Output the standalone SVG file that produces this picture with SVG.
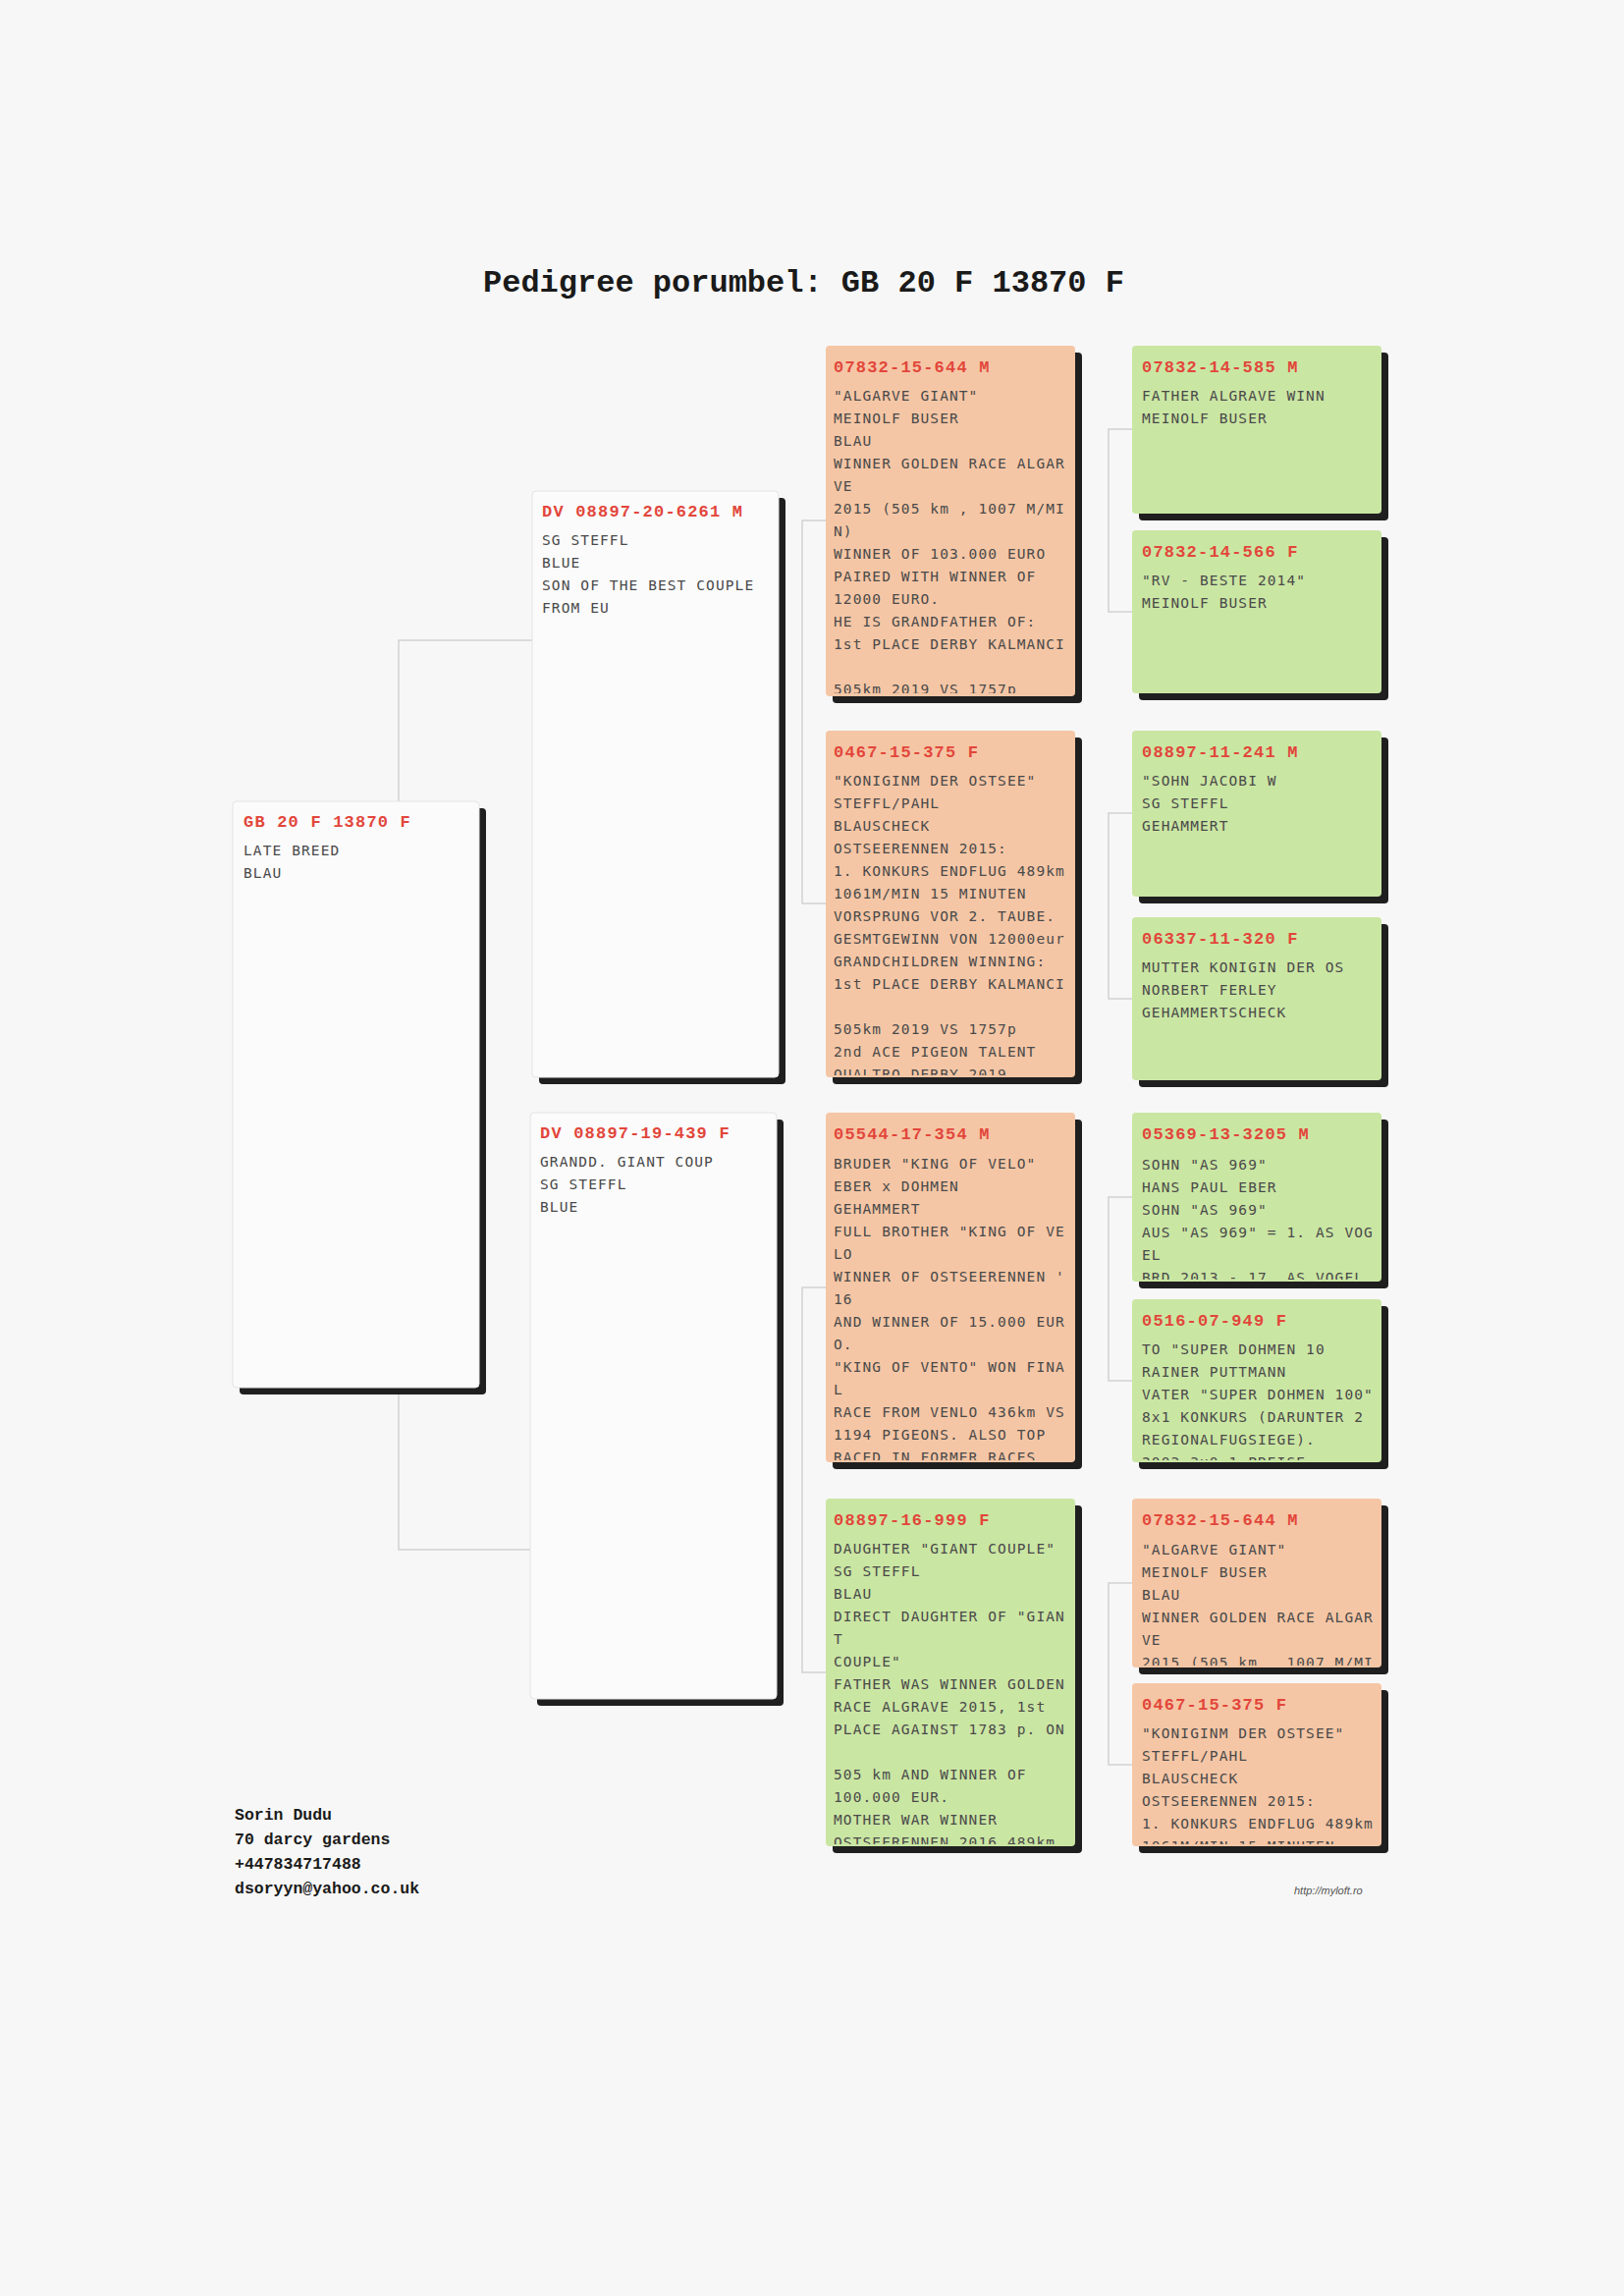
<svg xmlns="http://www.w3.org/2000/svg" width="1654" height="2338" viewBox="0 0 1654 2338">
<style>
.bg{fill:#f7f7f7}
.sh{fill:#1f1f1f}
.w{fill:#fbfbfb;stroke:#e4e4e4;stroke-width:1}
.s{fill:#f5c6a5}
.g{fill:#cae6a3}
.hd{font-family:"Liberation Mono",monospace;font-weight:bold;font-size:17px;letter-spacing:1.2px;fill:#e2463b}
.bd{font-family:"DejaVu Sans Mono",monospace;font-size:14.5px;letter-spacing:1.1px;fill:#4a4a4a}
.title{font-family:"Liberation Mono",monospace;font-weight:bold;font-size:32px;fill:#1a1a1a}
.ft{font-family:"Liberation Mono",monospace;font-weight:bold;font-size:16.5px;fill:#1a1a1a}
.lk{font-family:"Liberation Sans",sans-serif;font-style:italic;font-size:11px;fill:#555}
.cn{fill:none;stroke:#d2d2d2;stroke-width:1.5}
</style>
<defs>
<clipPath id="cRoot"><rect x="237" y="816" width="251" height="594"/></clipPath>
<clipPath id="cG1a"><rect x="542" y="500" width="251" height="594"/></clipPath>
<clipPath id="cG1b"><rect x="540" y="1133" width="251" height="594"/></clipPath>
<clipPath id="cG2a"><rect x="841" y="352" width="254" height="354"/></clipPath>
<clipPath id="cG2b"><rect x="841" y="744" width="254" height="351"/></clipPath>
<clipPath id="cG2c"><rect x="841" y="1133" width="254" height="354"/></clipPath>
<clipPath id="cG2d"><rect x="841" y="1526" width="254" height="352"/></clipPath>
<clipPath id="cG3a1"><rect x="1153" y="352" width="254" height="169"/></clipPath>
<clipPath id="cG3a2"><rect x="1153" y="540" width="254" height="164"/></clipPath>
<clipPath id="cG3b1"><rect x="1153" y="744" width="254" height="167"/></clipPath>
<clipPath id="cG3b2"><rect x="1153" y="934" width="254" height="164"/></clipPath>
<clipPath id="cG3c1"><rect x="1153" y="1133" width="254" height="170"/></clipPath>
<clipPath id="cG3c2"><rect x="1153" y="1323" width="254" height="164"/></clipPath>
<clipPath id="cG3d1"><rect x="1153" y="1526" width="254" height="170"/></clipPath>
<clipPath id="cG3d2"><rect x="1153" y="1714" width="254" height="164"/></clipPath>
</defs>
<rect class="bg" x="0" y="0" width="1654" height="2338"/>

<text class="title" x="492" y="297">Pedigree porumbel: GB 20 F 13870 F</text>

<g id="connectors" class="cn">
<path d="M406,816 V652 H542"/>
<path d="M406,1413 V1578 H540"/>
<path d="M841,530 H817 V920 H841"/>
<path d="M841,1311 H817 V1703 H841"/>
<path d="M1153,437 H1129 V623 H1153"/>
<path d="M1153,828 H1129 V1017 H1153"/>
<path d="M1153,1219 H1129 V1406 H1153"/>
<path d="M1153,1612 H1129 V1797 H1153"/>
</g>

<g id="root">
<rect class="sh" x="244" y="823" width="251" height="597" rx="4"/>
<rect class="w" x="237" y="816" width="251" height="597" rx="4"/>
<text class="hd" x="248" y="842">GB 20 F 13870 F</text>
<g clip-path="url(#cRoot)" class="bd">
<text x="248" y="871">LATE BREED</text>
<text x="248" y="894">BLAU</text>
</g>
</g>

<g id="sire">
<rect class="sh" x="549" y="507" width="251" height="597" rx="4"/>
<rect class="w" x="542" y="500" width="251" height="597" rx="4"/>
<text class="hd" x="552" y="526">DV 08897-20-6261 M</text>
<g clip-path="url(#cG1a)" class="bd">
<text x="552" y="555">SG STEFFL</text>
<text x="552" y="578">BLUE</text>
<text x="552" y="601">SON OF THE BEST COUPLE</text>
<text x="552" y="624">FROM EU</text>
</g>
</g>

<g id="dam">
<rect class="sh" x="547" y="1140" width="251" height="597" rx="4"/>
<rect class="w" x="540" y="1133" width="251" height="597" rx="4"/>
<text class="hd" x="550" y="1159">DV 08897-19-439 F</text>
<g clip-path="url(#cG1b)" class="bd">
<text x="550" y="1188">GRANDD. GIANT COUP</text>
<text x="550" y="1211">SG STEFFL</text>
<text x="550" y="1234">BLUE</text>
</g>
</g>

<g id="ss">
<rect class="sh" x="848" y="359" width="254" height="357" rx="4"/>
<rect class="s" x="841" y="352" width="254" height="357" rx="4"/>
<text class="hd" x="849" y="379">07832-15-644 M</text>
<g clip-path="url(#cG2a)" class="bd">
<text x="849" y="408">"ALGARVE GIANT"</text>
<text x="849" y="431">MEINOLF BUSER</text>
<text x="849" y="454">BLAU</text>
<text x="849" y="477">WINNER GOLDEN RACE ALGAR</text>
<text x="849" y="500">VE</text>
<text x="849" y="523">2015 (505 km , 1007 M/MI</text>
<text x="849" y="546">N)</text>
<text x="849" y="569">WINNER OF 103.000 EURO</text>
<text x="849" y="592">PAIRED WITH WINNER OF</text>
<text x="849" y="615">12000 EURO.</text>
<text x="849" y="638">HE IS GRANDFATHER OF:</text>
<text x="849" y="661">1st PLACE DERBY KALMANCI</text>
<text x="849" y="707">505km 2019 VS 1757p</text>
</g>
</g>

<g id="sd">
<rect class="sh" x="848" y="751" width="254" height="353" rx="4"/>
<rect class="s" x="841" y="744" width="254" height="353" rx="4"/>
<text class="hd" x="849" y="771">0467-15-375 F</text>
<g clip-path="url(#cG2b)" class="bd">
<text x="849" y="800">"KONIGINM DER OSTSEE"</text>
<text x="849" y="823">STEFFL/PAHL</text>
<text x="849" y="846">BLAUSCHECK</text>
<text x="849" y="869">OSTSEERENNEN 2015:</text>
<text x="849" y="892">1. KONKURS ENDFLUG 489km</text>
<text x="849" y="915">1061M/MIN 15 MINUTEN</text>
<text x="849" y="938">VORSPRUNG VOR 2. TAUBE.</text>
<text x="849" y="961">GESMTGEWINN VON 12000eur</text>
<text x="849" y="984">GRANDCHILDREN WINNING:</text>
<text x="849" y="1007">1st PLACE DERBY KALMANCI</text>
<text x="849" y="1053">505km 2019 VS 1757p</text>
<text x="849" y="1076">2nd ACE PIGEON TALENT</text>
<text x="849" y="1099">QUALTRO DERBY 2019</text>
</g>
</g>

<g id="ds">
<rect class="sh" x="848" y="1140" width="254" height="356" rx="4"/>
<rect class="s" x="841" y="1133" width="254" height="356" rx="4"/>
<text class="hd" x="849" y="1160">05544-17-354 M</text>
<g clip-path="url(#cG2c)" class="bd">
<text x="849" y="1190">BRUDER "KING OF VELO"</text>
<text x="849" y="1213">EBER x DOHMEN</text>
<text x="849" y="1236">GEHAMMERT</text>
<text x="849" y="1259">FULL BROTHER "KING OF VE</text>
<text x="849" y="1282">LO</text>
<text x="849" y="1305">WINNER OF OSTSEERENNEN '</text>
<text x="849" y="1328">16</text>
<text x="849" y="1351">AND WINNER OF 15.000 EUR</text>
<text x="849" y="1374">O.</text>
<text x="849" y="1397">"KING OF VENTO" WON FINA</text>
<text x="849" y="1420">L</text>
<text x="849" y="1443">RACE FROM VENLO 436km VS</text>
<text x="849" y="1466">1194 PIGEONS. ALSO TOP</text>
<text x="849" y="1489">RACED IN FORMER RACES</text>
</g>
</g>

<g id="dd">
<rect class="sh" x="848" y="1533" width="254" height="354" rx="4"/>
<rect class="g" x="841" y="1526" width="254" height="354" rx="4"/>
<text class="hd" x="849" y="1553">08897-16-999 F</text>
<g clip-path="url(#cG2d)" class="bd">
<text x="849" y="1582">DAUGHTER "GIANT COUPLE"</text>
<text x="849" y="1605">SG STEFFL</text>
<text x="849" y="1628">BLAU</text>
<text x="849" y="1651">DIRECT DAUGHTER OF "GIAN</text>
<text x="849" y="1674">T</text>
<text x="849" y="1697">COUPLE"</text>
<text x="849" y="1720">FATHER WAS WINNER GOLDEN</text>
<text x="849" y="1743">RACE ALGRAVE 2015, 1st</text>
<text x="849" y="1766">PLACE AGAINST 1783 p. ON</text>
<text x="849" y="1812">505 km AND WINNER OF</text>
<text x="849" y="1835">100.000 EUR.</text>
<text x="849" y="1858">MOTHER WAR WINNER</text>
<text x="849" y="1881">OSTSEERENNEN 2016 489km</text>
</g>
</g>

<g id="sss">
<rect class="sh" x="1160" y="359" width="254" height="171" rx="4"/>
<rect class="g" x="1153" y="352" width="254" height="171" rx="4"/>
<text class="hd" x="1163" y="379">07832-14-585 M</text>
<g clip-path="url(#cG3a1)" class="bd">
<text x="1163" y="408">FATHER ALGRAVE WINN</text>
<text x="1163" y="431">MEINOLF BUSER</text>
</g>
</g>

<g id="ssd">
<rect class="sh" x="1160" y="547" width="254" height="166" rx="4"/>
<rect class="g" x="1153" y="540" width="254" height="166" rx="4"/>
<text class="hd" x="1163" y="567">07832-14-566 F</text>
<g clip-path="url(#cG3a2)" class="bd">
<text x="1163" y="596">"RV - BESTE 2014"</text>
<text x="1163" y="619">MEINOLF BUSER</text>
</g>
</g>

<g id="sds">
<rect class="sh" x="1160" y="751" width="254" height="169" rx="4"/>
<rect class="g" x="1153" y="744" width="254" height="169" rx="4"/>
<text class="hd" x="1163" y="771">08897-11-241 M</text>
<g clip-path="url(#cG3b1)" class="bd">
<text x="1163" y="800">"SOHN JACOBI W</text>
<text x="1163" y="823">SG STEFFL</text>
<text x="1163" y="846">GEHAMMERT</text>
</g>
</g>

<g id="sdd">
<rect class="sh" x="1160" y="941" width="254" height="166" rx="4"/>
<rect class="g" x="1153" y="934" width="254" height="166" rx="4"/>
<text class="hd" x="1163" y="961">06337-11-320 F</text>
<g clip-path="url(#cG3b2)" class="bd">
<text x="1163" y="990">MUTTER KONIGIN DER OS</text>
<text x="1163" y="1013">NORBERT FERLEY</text>
<text x="1163" y="1036">GEHAMMERTSCHECK</text>
</g>
</g>

<g id="dss">
<rect class="sh" x="1160" y="1140" width="254" height="172" rx="4"/>
<rect class="g" x="1153" y="1133" width="254" height="172" rx="4"/>
<text class="hd" x="1163" y="1160">05369-13-3205 M</text>
<g clip-path="url(#cG3c1)" class="bd">
<text x="1163" y="1191">SOHN "AS 969"</text>
<text x="1163" y="1214">HANS PAUL EBER</text>
<text x="1163" y="1237">SOHN "AS 969"</text>
<text x="1163" y="1260">AUS "AS 969" = 1. AS VOG</text>
<text x="1163" y="1283">EL</text>
<text x="1163" y="1306">BRD 2013 - 17. AS VOGEL</text>
</g>
</g>

<g id="dsd">
<rect class="sh" x="1160" y="1330" width="254" height="166" rx="4"/>
<rect class="g" x="1153" y="1323" width="254" height="166" rx="4"/>
<text class="hd" x="1163" y="1350">0516-07-949 F</text>
<g clip-path="url(#cG3c2)" class="bd">
<text x="1163" y="1379">TO "SUPER DOHMEN 10</text>
<text x="1163" y="1402">RAINER PUTTMANN</text>
<text x="1163" y="1425">VATER "SUPER DOHMEN 100"</text>
<text x="1163" y="1448">8x1 KONKURS (DARUNTER 2</text>
<text x="1163" y="1471">REGIONALFUGSIEGE).</text>
<text x="1163" y="1494">2003 3x0 1 PREISE</text>
</g>
</g>

<g id="dds">
<rect class="sh" x="1160" y="1533" width="254" height="172" rx="4"/>
<rect class="s" x="1153" y="1526" width="254" height="172" rx="4"/>
<text class="hd" x="1163" y="1553">07832-15-644 M</text>
<g clip-path="url(#cG3d1)" class="bd">
<text x="1163" y="1583">"ALGARVE GIANT"</text>
<text x="1163" y="1606">MEINOLF BUSER</text>
<text x="1163" y="1629">BLAU</text>
<text x="1163" y="1652">WINNER GOLDEN RACE ALGAR</text>
<text x="1163" y="1675">VE</text>
<text x="1163" y="1698">2015 (505 km , 1007 M/MI</text>
</g>
</g>

<g id="ddd">
<rect class="sh" x="1160" y="1721" width="254" height="166" rx="4"/>
<rect class="s" x="1153" y="1714" width="254" height="166" rx="4"/>
<text class="hd" x="1163" y="1741">0467-15-375 F</text>
<g clip-path="url(#cG3d2)" class="bd">
<text x="1163" y="1770">"KONIGINM DER OSTSEE"</text>
<text x="1163" y="1793">STEFFL/PAHL</text>
<text x="1163" y="1816">BLAUSCHECK</text>
<text x="1163" y="1839">OSTSEERENNEN 2015:</text>
<text x="1163" y="1862">1. KONKURS ENDFLUG 489km</text>
<text x="1163" y="1885">1061M/MIN 15 MINUTEN</text>
</g>
</g>

<g id="footer">
<text class="ft" x="239" y="1853">Sorin Dudu</text>
<text class="ft" x="239" y="1878">70 darcy gardens</text>
<text class="ft" x="239" y="1903">+447834717488</text>
<text class="ft" x="239" y="1928">dsoryyn@yahoo.co.uk</text>
<text class="lk" x="1318" y="1929">http://myloft.ro</text>
</g>
</svg>
